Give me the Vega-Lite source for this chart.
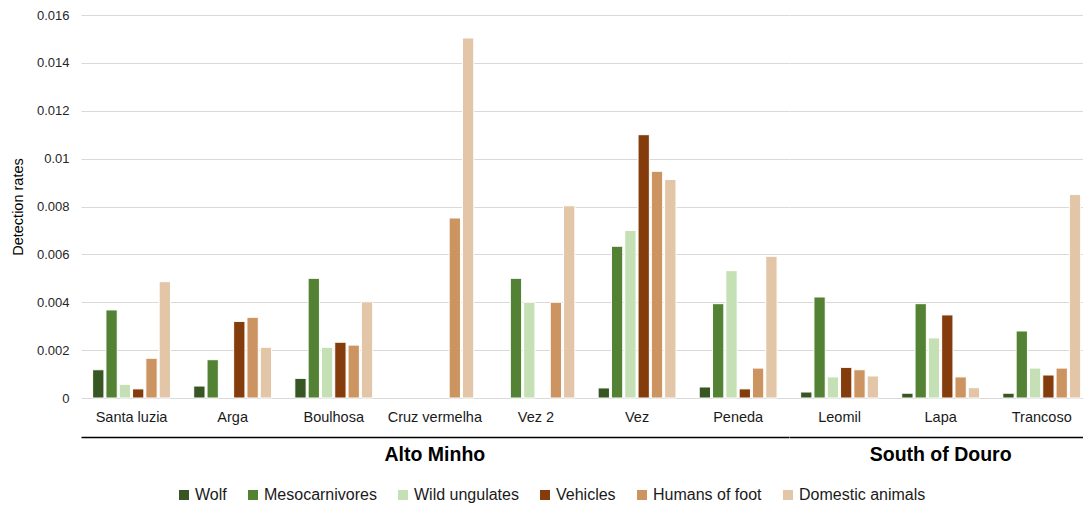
{
  "$schema": "https://vega.github.io/schema/vega-lite/v6.json",
  "padding": {"left": 10, "top": 9, "right": 0, "bottom": 0},
  "config": {
    "font": "Liberation Sans",
    "view": {"stroke": null},
    "legend": {"layout": {"bottom": {"anchor": "middle"}}}
  },
  "data": {"values": [
    {"site": "Santa luzia", "region": "Alto Minho", "group": "Wolf", "value": 0.00118},
    {"site": "Santa luzia", "region": "Alto Minho", "group": "Mesocarnivores", "value": 0.00368},
    {"site": "Santa luzia", "region": "Alto Minho", "group": "Wild ungulates", "value": 0.00057},
    {"site": "Santa luzia", "region": "Alto Minho", "group": "Vehicles", "value": 0.00038},
    {"site": "Santa luzia", "region": "Alto Minho", "group": "Humans of foot", "value": 0.00166},
    {"site": "Santa luzia", "region": "Alto Minho", "group": "Domestic animals", "value": 0.00486},
    {"site": "Arga", "region": "Alto Minho", "group": "Wolf", "value": 0.0005},
    {"site": "Arga", "region": "Alto Minho", "group": "Mesocarnivores", "value": 0.0016},
    {"site": "Arga", "region": "Alto Minho", "group": "Vehicles", "value": 0.0032},
    {"site": "Arga", "region": "Alto Minho", "group": "Humans of foot", "value": 0.00337},
    {"site": "Arga", "region": "Alto Minho", "group": "Domestic animals", "value": 0.00212},
    {"site": "Boulhosa", "region": "Alto Minho", "group": "Wolf", "value": 0.00082},
    {"site": "Boulhosa", "region": "Alto Minho", "group": "Mesocarnivores", "value": 0.005},
    {"site": "Boulhosa", "region": "Alto Minho", "group": "Wild ungulates", "value": 0.00212},
    {"site": "Boulhosa", "region": "Alto Minho", "group": "Vehicles", "value": 0.00233},
    {"site": "Boulhosa", "region": "Alto Minho", "group": "Humans of foot", "value": 0.00221},
    {"site": "Boulhosa", "region": "Alto Minho", "group": "Domestic animals", "value": 0.00402},
    {"site": "Cruz vermelha", "region": "Alto Minho", "group": "Humans of foot", "value": 0.00752},
    {"site": "Cruz vermelha", "region": "Alto Minho", "group": "Domestic animals", "value": 0.01504},
    {"site": "Vez 2", "region": "Alto Minho", "group": "Mesocarnivores", "value": 0.005},
    {"site": "Vez 2", "region": "Alto Minho", "group": "Wild ungulates", "value": 0.004},
    {"site": "Vez 2", "region": "Alto Minho", "group": "Humans of foot", "value": 0.004},
    {"site": "Vez 2", "region": "Alto Minho", "group": "Domestic animals", "value": 0.00803},
    {"site": "Vez", "region": "Alto Minho", "group": "Wolf", "value": 0.00042},
    {"site": "Vez", "region": "Alto Minho", "group": "Mesocarnivores", "value": 0.00634},
    {"site": "Vez", "region": "Alto Minho", "group": "Wild ungulates", "value": 0.007},
    {"site": "Vez", "region": "Alto Minho", "group": "Vehicles", "value": 0.011},
    {"site": "Vez", "region": "Alto Minho", "group": "Humans of foot", "value": 0.00947},
    {"site": "Vez", "region": "Alto Minho", "group": "Domestic animals", "value": 0.00913},
    {"site": "Peneda", "region": "Alto Minho", "group": "Wolf", "value": 0.00046},
    {"site": "Peneda", "region": "Alto Minho", "group": "Mesocarnivores", "value": 0.00394},
    {"site": "Peneda", "region": "Alto Minho", "group": "Wild ungulates", "value": 0.00532},
    {"site": "Peneda", "region": "Alto Minho", "group": "Vehicles", "value": 0.00038},
    {"site": "Peneda", "region": "Alto Minho", "group": "Humans of foot", "value": 0.00125},
    {"site": "Peneda", "region": "Alto Minho", "group": "Domestic animals", "value": 0.00592},
    {"site": "Leomil", "region": "South of Douro", "group": "Wolf", "value": 0.00025},
    {"site": "Leomil", "region": "South of Douro", "group": "Mesocarnivores", "value": 0.00422},
    {"site": "Leomil", "region": "South of Douro", "group": "Wild ungulates", "value": 0.00088},
    {"site": "Leomil", "region": "South of Douro", "group": "Vehicles", "value": 0.00128},
    {"site": "Leomil", "region": "South of Douro", "group": "Humans of foot", "value": 0.00118},
    {"site": "Leomil", "region": "South of Douro", "group": "Domestic animals", "value": 0.00092},
    {"site": "Lapa", "region": "South of Douro", "group": "Wolf", "value": 0.0002},
    {"site": "Lapa", "region": "South of Douro", "group": "Mesocarnivores", "value": 0.00394},
    {"site": "Lapa", "region": "South of Douro", "group": "Wild ungulates", "value": 0.00251},
    {"site": "Lapa", "region": "South of Douro", "group": "Vehicles", "value": 0.00347},
    {"site": "Lapa", "region": "South of Douro", "group": "Humans of foot", "value": 0.00088},
    {"site": "Lapa", "region": "South of Douro", "group": "Domestic animals", "value": 0.00043},
    {"site": "Trancoso", "region": "South of Douro", "group": "Wolf", "value": 0.0002},
    {"site": "Trancoso", "region": "South of Douro", "group": "Mesocarnivores", "value": 0.0028},
    {"site": "Trancoso", "region": "South of Douro", "group": "Wild ungulates", "value": 0.00125},
    {"site": "Trancoso", "region": "South of Douro", "group": "Vehicles", "value": 0.00096},
    {"site": "Trancoso", "region": "South of Douro", "group": "Humans of foot", "value": 0.00125},
    {"site": "Trancoso", "region": "South of Douro", "group": "Domestic animals", "value": 0.0085}
  ]},
  "facet": {
    "column": {
      "field": "region", "type": "nominal",
      "sort": ["Alto Minho", "South of Douro"],
      "header": {"title": null, "labelOrient": "bottom", "labelFontSize": 19.5, "labelFontWeight": "bold", "labelColor": "black", "labelPadding": 9}
    }
  },
  "spacing": 0,
  "resolve": {"scale": {"x": "independent", "xOffset": "independent"}},
  "spec": {
    "width": {"step": 101.1, "for": "position"},
    "height": 383,
    "mark": {"type": "bar", "stroke": "white", "strokeWidth": 1},
    "encoding": {
      "x": {
        "field": "site", "type": "nominal",
        "sort": ["Santa luzia", "Arga", "Boulhosa", "Cruz vermelha", "Vez 2", "Vez", "Peneda", "Leomil", "Lapa", "Trancoso"],
        "scale": {"paddingInner": 0.23, "paddingOuter": 0.115},
        "axis": {"title": null, "labelAngle": 0, "ticks": false, "domainColor": "black", "domainWidth": 1.5, "offset": 39, "labelPadding": -27, "labelBaseline": "top", "labelFontSize": 14.5, "labelColor": "#1a1a1a"}
      },
      "xOffset": {
        "field": "group", "type": "nominal",
        "sort": ["Wolf", "Mesocarnivores", "Wild ungulates", "Vehicles", "Humans of foot", "Domestic animals"],
        "scale": {"domain": ["Wolf", "Mesocarnivores", "Wild ungulates", "Vehicles", "Humans of foot", "Domestic animals"], "paddingInner": 0.15}
      },
      "y": {
        "field": "value", "type": "quantitative",
        "scale": {"domain": [0, 0.016]},
        "axis": {"title": "Detection rates", "format": "~g", "values": [0, 0.002, 0.004, 0.006, 0.008, 0.01, 0.012, 0.014, 0.016], "domain": false, "ticks": false, "gridColor": "#d9d9d9", "labelFontSize": 13, "labelColor": "#262626", "labelPadding": 12, "titleFontSize": 14.5, "titleFontWeight": "normal", "titleColor": "black", "titlePadding": 11}
      },
      "color": {
        "field": "group", "type": "nominal",
        "sort": ["Wolf", "Mesocarnivores", "Wild ungulates", "Vehicles", "Humans of foot", "Domestic animals"],
        "scale": {
          "domain": ["Wolf", "Mesocarnivores", "Wild ungulates", "Vehicles", "Humans of foot", "Domestic animals"],
          "range": ["#375623", "#548235", "#C5E0B4", "#843C0C", "#CB9461", "#E3C6A7"]
        },
        "legend": {"title": null, "orient": "bottom", "direction": "horizontal", "symbolType": "square", "symbolSize": 100, "symbolStrokeWidth": 0, "labelFontSize": 16, "labelColor": "#1a1a1a", "labelOffset": 3, "columnPadding": 18, "offset": 22}
      }
    }
  }
}
